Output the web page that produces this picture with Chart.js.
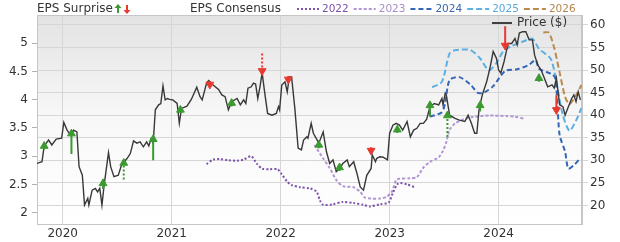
<!DOCTYPE html>
<html>
<head>
<meta charset="utf-8">
<script src="https://cdn.jsdelivr.net/npm/chart.js@4.4.1/dist/chart.umd.min.js"></script>
<style>
  html, body { margin: 0; padding: 0; background: #fff; }
</style>
</head>
<body>
<canvas id="chart" width="620" height="242"></canvas>
<script>
// x values are decimal years
const yearTicks = [2020, 2021, 2022, 2023, 2024];
const epsTicks = [2, 2.5, 3, 3.5, 4, 4.5, 5];
const priceTicks = [20, 25, 30, 35, 40, 45, 50, 55, 60];

const priceYears = [2019.76, 2019.81, 2019.83, 2019.87, 2019.90, 2019.94, 2019.99, 2020.01, 2020.04, 2020.07,
  2020.10, 2020.13, 2020.15, 2020.18, 2020.20, 2020.23, 2020.24, 2020.27, 2020.30, 2020.32,
  2020.34, 2020.36, 2020.38, 2020.42, 2020.44, 2020.47, 2020.51, 2020.54, 2020.59, 2020.62,
  2020.65, 2020.68, 2020.71, 2020.74, 2020.77, 2020.79, 2020.81, 2020.83, 2020.85, 2020.88,
  2020.90, 2020.92, 2020.94, 2020.96, 2020.98, 2021.01, 2021.05, 2021.07, 2021.09, 2021.14,
  2021.18, 2021.23, 2021.26, 2021.28, 2021.32, 2021.34, 2021.38, 2021.43, 2021.46, 2021.49,
  2021.52, 2021.55, 2021.60, 2021.63, 2021.66, 2021.68, 2021.70, 2021.73, 2021.75, 2021.77,
  2021.79, 2021.81, 2021.83, 2021.85, 2021.88, 2021.92, 2021.96, 2021.98, 2021.99, 2022.01,
  2022.04, 2022.06, 2022.08, 2022.10, 2022.13, 2022.16, 2022.19, 2022.21, 2022.24, 2022.25,
  2022.28, 2022.30, 2022.35, 2022.39, 2022.42, 2022.45, 2022.48, 2022.51, 2022.54, 2022.57,
  2022.61, 2022.63, 2022.67, 2022.70, 2022.73, 2022.76, 2022.79, 2022.83, 2022.84, 2022.87,
  2022.88, 2022.91, 2022.94, 2022.98, 2023.00, 2023.03, 2023.06, 2023.09, 2023.12, 2023.16,
  2023.19, 2023.22, 2023.25, 2023.28, 2023.31, 2023.34, 2023.37, 2023.41, 2023.45, 2023.48,
  2023.49, 2023.51, 2023.52, 2023.55, 2023.60, 2023.64, 2023.69, 2023.72, 2023.75, 2023.78,
  2023.80, 2023.82, 2023.85, 2023.89, 2023.92, 2023.95, 2023.98, 2024.00, 2024.02, 2024.05,
  2024.07, 2024.09, 2024.12, 2024.15, 2024.17, 2024.19, 2024.22, 2024.25, 2024.28, 2024.31,
  2024.33, 2024.36, 2024.39, 2024.42, 2024.45, 2024.49, 2024.51, 2024.53, 2024.56, 2024.59,
  2024.61, 2024.64, 2024.67, 2024.69, 2024.71, 2024.73, 2024.75];
const priceValues = [29.3, 29.7, 33.2, 34.5, 33.4, 34.7, 34.9, 38.4, 36.7, 35.6,
  36.7, 36.3, 28.6, 26.7, 20.1, 21.6, 20.1, 23.4, 23.8, 23.0,
  23.8, 20.1, 24.5, 31.7, 28.6, 26.4, 26.7, 29.0, 30.4, 31.5,
  34.3, 33.8, 34.1, 33.0, 34.1, 33.2, 34.7, 33.8, 41.2, 42.3,
  42.6, 46.5, 43.4, 43.7, 43.5, 43.4, 42.6, 38.2, 41.5, 42.0,
  43.5, 46.2, 44.1, 43.4, 47.1, 47.7, 46.7, 45.7, 44.5, 44.1,
  41.2, 43.0, 43.7, 42.3, 43.4, 42.6, 46.0, 46.3, 47.1, 46.9,
  43.7, 46.3, 49.4, 45.6, 40.4, 40.0, 40.4, 41.9, 41.2, 46.7,
  47.4, 45.2, 48.5, 48.5, 41.5, 32.7, 32.3, 34.5, 35.2, 34.9,
  38.2, 36.0, 33.8, 36.3, 31.9, 29.3, 30.1, 27.5, 28.2, 29.3,
  30.1, 28.6, 29.7, 27.1, 24.1, 23.4, 26.7, 28.2, 31.2, 29.7,
  30.4, 30.8, 30.7, 30.1, 36.0, 37.8, 38.2, 37.8, 36.7, 38.6,
  35.2, 36.7, 37.1, 38.2, 38.2, 39.1, 41.9, 42.6, 42.3, 43.7,
  42.3, 44.9, 44.5, 40.0, 39.3, 38.9, 38.6, 40.0, 38.2, 36.0,
  36.0, 41.2, 44.5, 47.4, 50.4, 54.1, 52.6, 50.0, 49.3, 51.9,
  54.1, 55.9, 55.9, 57.0, 55.6, 58.2, 58.5, 58.5, 56.7, 56.7,
  53.3, 51.1, 50.0, 48.2, 46.3, 46.7, 46.0, 48.2, 42.3, 41.9,
  40.0, 41.9, 43.7, 44.5, 43.0, 45.2, 43.4];

// EPS consensus per fiscal year
const cons2022Years = [2021.32, 2021.38, 2021.44, 2021.52, 2021.60, 2021.66, 2021.73, 2021.78, 2021.83, 2021.90,
  2021.97, 2022.01, 2022.06, 2022.10, 2022.18, 2022.27, 2022.33, 2022.36, 2022.39, 2022.48,
  2022.57, 2022.67, 2022.76, 2022.82, 2022.91, 2022.99, 2023.03, 2023.08, 2023.16, 2023.23];
const cons2022 = [2.86, 2.94, 2.95, 2.93, 2.92, 2.94, 3.00, 2.87, 2.78, 2.77,
  2.77, 2.68, 2.55, 2.49, 2.45, 2.43, 2.37, 2.22, 2.14, 2.15,
  2.19, 2.17, 2.14, 2.11, 2.15, 2.18, 2.35, 2.52, 2.50, 2.45];

const cons2023Years = [2022.31, 2022.39, 2022.45, 2022.51, 2022.57, 2022.67, 2022.73, 2022.77, 2022.83, 2022.91,
  2022.97, 2023.02, 2023.06, 2023.09, 2023.19, 2023.25, 2023.31, 2023.37, 2023.45, 2023.49,
  2023.52, 2023.55, 2023.60, 2023.66, 2023.77, 2023.92, 2024.07, 2024.15, 2024.24];
const cons2023 = [3.20, 2.96, 2.79, 2.58, 2.47, 2.45, 2.37, 2.27, 2.25, 2.25,
  2.28, 2.37, 2.58, 2.60, 2.61, 2.63, 2.80, 2.90, 2.98, 3.10,
  3.25, 3.47, 3.58, 3.64, 3.70, 3.72, 3.71, 3.70, 3.66];

const cons2024Years = [2023.37, 2023.48, 2023.51, 2023.55, 2023.64, 2023.74, 2023.81, 2023.87, 2023.95, 2024.06,
  2024.17, 2024.27, 2024.34, 2024.37, 2024.49, 2024.52, 2024.54, 2024.56, 2024.61, 2024.64,
  2024.70, 2024.75];
const cons2024 = [3.70, 3.78, 3.95, 4.35, 4.40, 4.27, 4.12, 4.13, 4.24, 4.51,
  4.54, 4.61, 4.70, 4.55, 4.45, 4.38, 3.90, 3.37, 3.08, 2.78,
  2.86, 2.97];

const cons2025Years = [2023.39, 2023.48, 2023.55, 2023.61, 2023.74, 2023.83, 2023.91, 2023.98, 2024.05, 2024.12,
  2024.21, 2024.31, 2024.37, 2024.48, 2024.54, 2024.59, 2024.65, 2024.71, 2024.76];
const cons2025 = [4.22, 4.32, 4.82, 4.88, 4.88, 4.73, 4.52, 4.65, 4.88, 4.95,
  5.02, 5.08, 4.90, 4.72, 4.20, 3.72, 3.45, 3.63, 3.85];

const cons2026Years = [2024.41, 2024.46, 2024.51, 2024.56, 2024.61, 2024.65, 2024.71, 2024.76];
const cons2026 = [5.19, 5.19, 4.92, 4.48, 4.05, 3.92, 4.08, 4.26];

// EPS surprise: estimate -> actual, per quarter report
const surpriseYears = [2019.83, 2020.08, 2020.37, 2020.56, 2020.83, 2021.08, 2021.35, 2021.55, 2021.83, 2022.07,
  2022.35, 2022.54, 2022.83, 2023.07, 2023.37, 2023.53, 2023.83, 2024.06, 2024.37, 2024.53];
const surpriseEstimate = [3.12, 3.04, 2.42, 2.59, 2.93, 3.76, 4.33, 3.88, 4.82, 4.42,
  3.14, 2.74, 3.16, 3.41, 3.70, 3.34, 3.79, 5.30, 4.32, 4.08];
const surpriseActual = [3.18, 3.40, 2.52, 2.88, 3.30, 3.82, 4.27, 3.94, 4.51, 4.36,
  3.20, 2.80, 3.10, 3.47, 3.90, 3.72, 3.90, 4.96, 4.38, 3.82];
const surpriseDotted = [false, false, false, true, false, false, false, false, true, false,
  false, false, false, false, false, true, false, false, false, false];

const GREEN = '#3c9a30';
const RED = '#e8392f';
const consensus = [
  { label: '2022', years: cons2022Years, values: cons2022, color: '#7b53aa', text: '#7b53aa', dash: [2, 2] },
  { label: '2023', years: cons2023Years, values: cons2023, color: '#b396d6', text: '#a88cc8', dash: [3, 2] },
  { label: '2024', years: cons2024Years, values: cons2024, color: '#3465b7', text: '#3a69b0', dash: [5, 3] },
  { label: '2025', years: cons2025Years, values: cons2025, color: '#5cb0e2', text: '#58a9dc', dash: [6, 3] },
  { label: '2026', years: cons2026Years, values: cons2026, color: '#bb8a4e', text: '#b1864f', dash: [6, 3] }
];

function toPoints(xs, ys) {
  return xs.map((x, i) => ({ x: x, y: ys[i] }));
}

function shaftPoints(keep) {
  const pts = [];
  surpriseYears.forEach((x, i) => {
    if (!keep(i)) return;
    pts.push({ x: x, y: surpriseEstimate[i] }, { x: x, y: surpriseActual[i] }, { x: x, y: null });
  });
  return pts;
}

function headPoints(keep) {
  const pts = [];
  surpriseYears.forEach((x, i) => {
    if (keep(i)) pts.push({ x: x, y: surpriseActual[i] });
  });
  return pts;
}

const isBeat = i => surpriseActual[i] >= surpriseEstimate[i];

const datasets = [];
consensus.forEach(c => {
  datasets.push({
    data: toPoints(c.years, c.values),
    yAxisID: 'eps',
    borderColor: c.color,
    borderWidth: 2,
    borderDash: c.dash,
    pointRadius: 0,
    tension: 0.25,
    order: 3
  });
});
datasets.push({
  data: toPoints(priceYears, priceValues),
  yAxisID: 'price',
  borderColor: '#383838',
  borderWidth: 1.4,
  pointRadius: 0,
  tension: 0,
  order: 2
});
[
  [i => isBeat(i) && !surpriseDotted[i], GREEN, []],
  [i => isBeat(i) && surpriseDotted[i], GREEN, [2, 2]],
  [i => !isBeat(i) && !surpriseDotted[i], RED, []],
  [i => !isBeat(i) && surpriseDotted[i], RED, [2, 2]]
].forEach(([keep, color, dash]) => {
  datasets.push({
    data: shaftPoints(keep),
    yAxisID: 'eps',
    borderColor: color,
    borderWidth: 2,
    borderDash: dash,
    pointRadius: 0,
    spanGaps: false,
    order: 1
  });
});
datasets.push({
  data: headPoints(isBeat),
  yAxisID: 'eps',
  showLine: false,
  pointStyle: 'triangle',
  pointRadius: 4.5,
  rotation: 0,
  backgroundColor: GREEN,
  borderColor: GREEN,
  borderWidth: 1,
  order: 0
});
datasets.push({
  data: headPoints(i => !isBeat(i)),
  yAxisID: 'eps',
  showLine: false,
  pointStyle: 'triangle',
  pointRadius: 4.5,
  rotation: 180,
  backgroundColor: RED,
  borderColor: RED,
  borderWidth: 1,
  order: 0
});

function drawMiniArrow(ctx, x, y, up, color) {
  ctx.save();
  ctx.strokeStyle = color;
  ctx.fillStyle = color;
  ctx.lineWidth = 2;
  ctx.beginPath();
  ctx.moveTo(x, y - 4);
  ctx.lineTo(x, y + 4);
  ctx.stroke();
  ctx.beginPath();
  if (up) {
    ctx.moveTo(x - 3.5, y - 1);
    ctx.lineTo(x + 3.5, y - 1);
    ctx.lineTo(x, y - 5);
  } else {
    ctx.moveTo(x - 3.5, y + 1);
    ctx.lineTo(x + 3.5, y + 1);
    ctx.lineTo(x, y + 5);
  }
  ctx.closePath();
  ctx.fill();
  ctx.restore();
}

const decorPlugin = {
  id: 'decor',
  beforeDraw(chart) {
    const { ctx, chartArea: a } = chart;
    const g = ctx.createLinearGradient(0, a.top, 0, a.bottom);
    g.addColorStop(0, '#e3e3e3');
    g.addColorStop(0.5, '#f8f8f8');
    g.addColorStop(1, '#ffffff');
    ctx.save();
    ctx.fillStyle = g;
    ctx.fillRect(a.left, a.top, a.right - a.left, a.bottom - a.top);
    ctx.restore();
  },
  beforeDatasetsDraw(chart) {
    const { ctx, chartArea: a } = chart;
    ctx.save();
    ctx.strokeStyle = '#c6c6c6';
    ctx.lineWidth = 1;
    ctx.strokeRect(a.left + 0.5, a.top + 0.5, a.right - a.left - 1, a.bottom - a.top);
    ctx.restore();
  },
  afterDraw(chart) {
    const { ctx } = chart;
    ctx.save();
    ctx.textBaseline = 'middle';
    ctx.textAlign = 'left';
    ctx.font = '12px "DejaVu Sans"';
    ctx.fillStyle = '#333';
    ctx.fillText('EPS Surprise', 37, 9);
    drawMiniArrow(ctx, 118, 9, true, GREEN);
    drawMiniArrow(ctx, 127, 9, false, RED);
    ctx.fillText('EPS Consensus', 190, 9);

    let x = 297;
    consensus.forEach(c => {
      ctx.strokeStyle = c.color;
      ctx.lineWidth = 2;
      ctx.setLineDash(c.dash);
      ctx.beginPath();
      ctx.moveTo(x, 9);
      ctx.lineTo(x + 22, 9);
      ctx.stroke();
      ctx.setLineDash([]);
      x += 25;
      ctx.font = '10.5px "DejaVu Sans"';
      ctx.fillStyle = c.text;
      ctx.fillText(c.label, x, 9);
      x += ctx.measureText(c.label).width + 5;
    });

    // price legend inside the plot
    ctx.strokeStyle = '#404040';
    ctx.lineWidth = 2;
    ctx.beginPath();
    ctx.moveTo(492, 23);
    ctx.lineTo(512, 23);
    ctx.stroke();
    ctx.font = '12px "DejaVu Sans"';
    ctx.fillStyle = '#333';
    ctx.fillText('Price ($)', 517, 23);
    ctx.restore();
  }
};

Chart.defaults.font.family = '"DejaVu Sans", sans-serif';
Chart.defaults.font.size = 12;
Chart.defaults.color = '#333';

new Chart(document.getElementById('chart').getContext('2d'), {
  type: 'line',
  data: { datasets },
  options: {
    responsive: false,
    animation: false,
    events: [],
    layout: { padding: { top: 15, left: 0, right: 0, bottom: 0 } },
    plugins: { legend: { display: false }, tooltip: { enabled: false } },
    scales: {
      x: {
        type: 'linear',
        min: 2019.764,
        max: 2024.765,
        afterBuildTicks: s => { s.ticks = yearTicks.map(v => ({ value: v })); },
        afterFit: s => { s.height = 18; },
        ticks: { callback: v => String(v), padding: 3, maxRotation: 0, autoSkip: false },
        grid: { color: '#d6d6d6', drawTicks: false },
        border: { color: '#c6c6c6' }
      },
      eps: {
        type: 'linear',
        position: 'left',
        min: 1.8,
        max: 5.5,
        afterBuildTicks: s => { s.ticks = epsTicks.map(v => ({ value: v })); },
        afterFit: s => { s.width = 37; },
        ticks: { callback: v => String(v), padding: 4 },
        grid: { drawOnChartArea: false, tickLength: 5, color: '#b0b0b0' },
        border: { color: '#c6c6c6' }
      },
      price: {
        type: 'linear',
        position: 'right',
        min: 15.9,
        max: 62.2,
        afterBuildTicks: s => { s.ticks = priceTicks.map(v => ({ value: v })); },
        afterFit: s => { s.width = 38; },
        ticks: { callback: v => String(v), padding: 2 },
        grid: { color: '#d6d6d6', tickLength: 6 },
        border: { color: '#c6c6c6' }
      }
    }
  },
  plugins: [decorPlugin]
});
</script>
</body>
</html>
